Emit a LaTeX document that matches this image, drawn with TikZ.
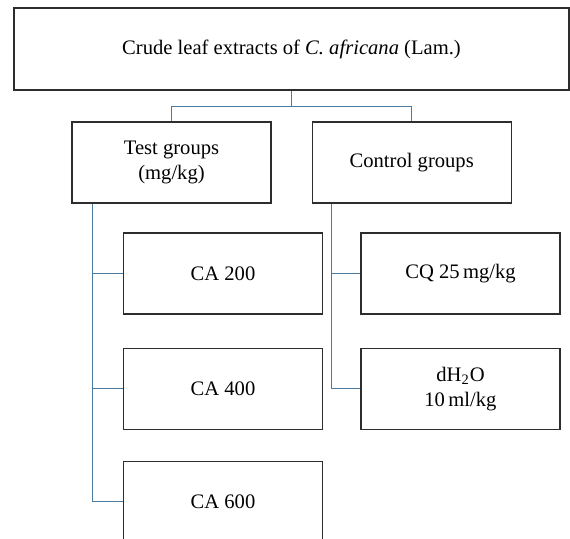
\documentclass[tikz,border=0pt]{standalone}
\usepackage{fontspec}
\setmainfont{Liberation Serif}
\usetikzlibrary{positioning}
\definecolor{linkblue}{RGB}{74,122,160}
\definecolor{boxgray}{RGB}{45,45,45}

\begin{document}
\begin{tikzpicture}[x=0.5pt,y=-0.5pt, every node/.style={font=\fontsize{10.3}{12.5}\selectfont},
  box/.style={draw=boxgray,line width=0.6pt,minimum width=99.5pt,minimum height=40.5pt,inner sep=2pt,align=center},
  link/.style={draw=linkblue,line width=0.6pt}]
\useasboundingbox (0,0) rectangle (570,539);
\clip (0,0) rectangle (570,539);

\node[box,minimum width=277.5pt,minimum height=41pt] (extract) at (291.5,49) {Crude leaf extracts of \textit{C. africana} (Lam.)};
\node[box] (test) at (171.5,162.5) {Test groups\\(mg/kg)};
\node[box,right=20pt of test] (control) {Control groups};

\node[box] (ca200) at (223,273.5) {CA 200};
\node[box,below=16.5pt of ca200] (ca400) {CA 400};
\node[box,below=15.5pt of ca400] (ca600) {CA 600};

\node[box] (cq) at (460.5,273.5) {CQ 25\,mg/kg};
\node[box,below=16.5pt of cq] (water) {dH\textsubscript{2}O\\10\,ml/kg};

% top fork
\draw[link] (extract.south) -- ++(0,16) -| (test.north);
\draw[link] (extract.south) -- ++(0,16) -| (control.north);

% test branches
\draw[link] ([xshift=10.5pt]test.south west) |- (ca600.west);
\draw[link] ([xshift=10.5pt]test.south west) |- (ca200.west);
\draw[link] ([xshift=10.5pt]test.south west) |- (ca400.west);

% control branches
\draw[link] ([xshift=10pt]control.south west) |- (water.west);
\draw[link] ([xshift=10pt]control.south west) |- (cq.west);
\end{tikzpicture}
\end{document}
